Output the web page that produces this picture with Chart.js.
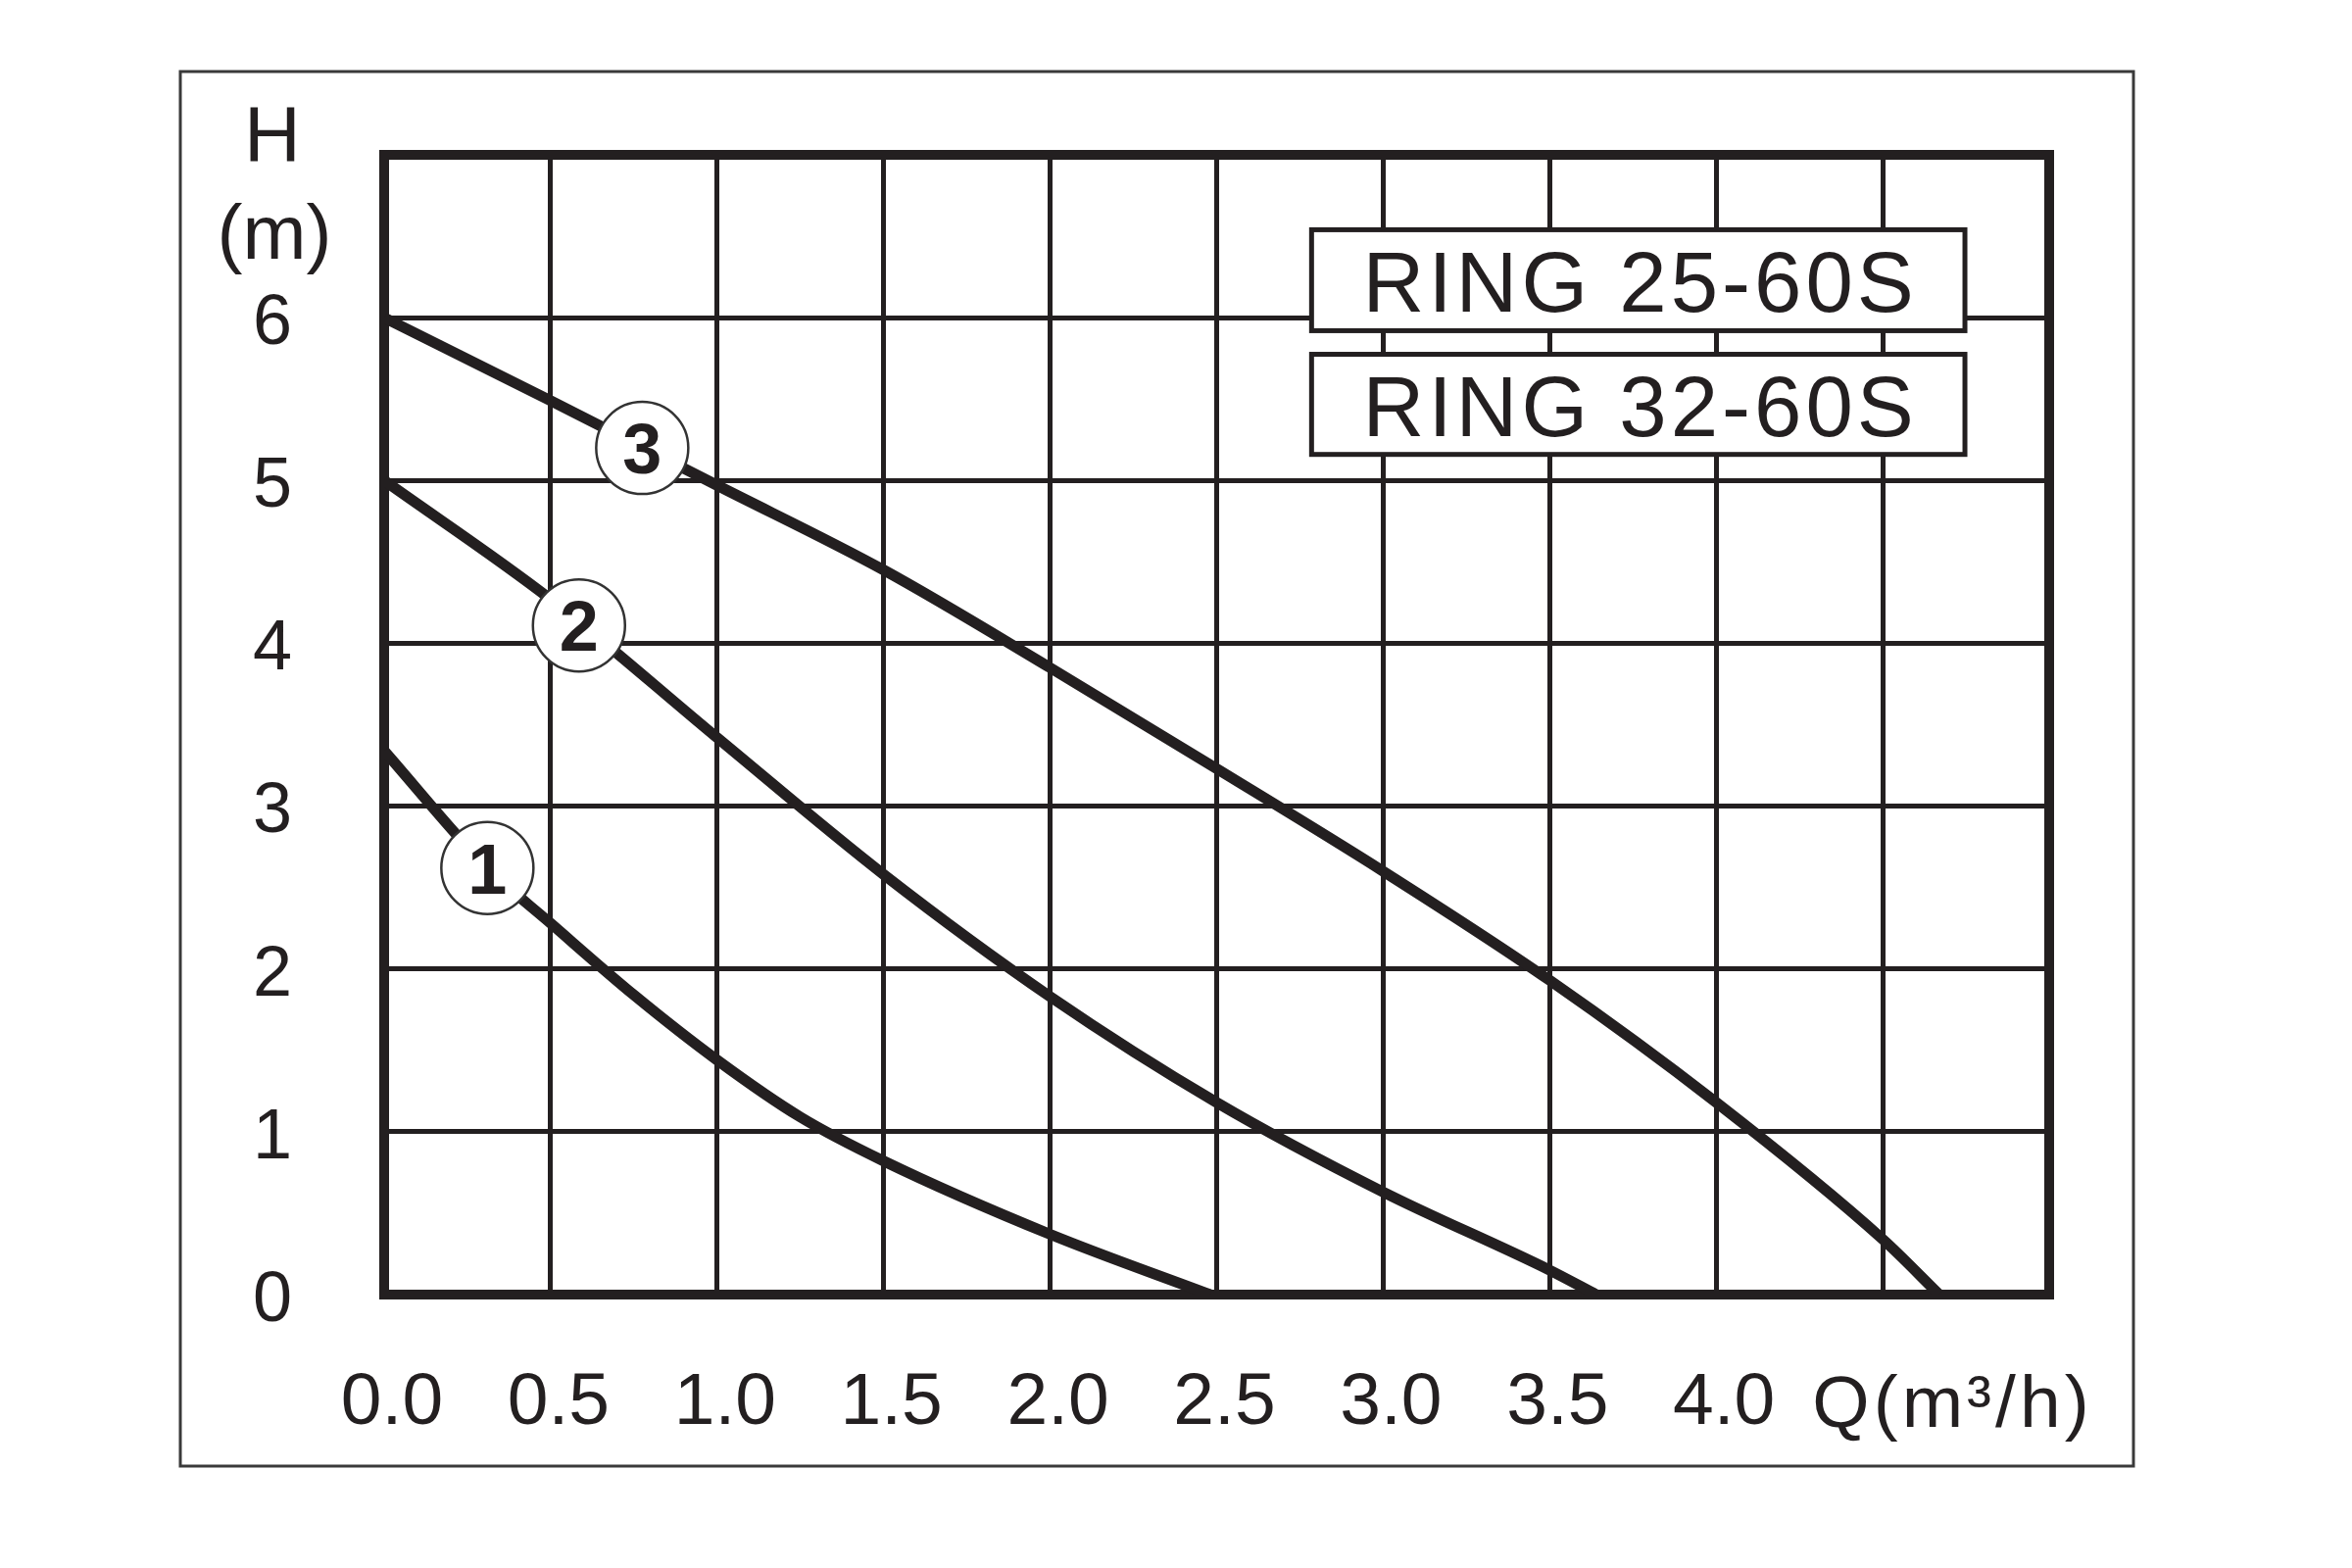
<!DOCTYPE html>
<html lang="en">
<head>
<meta charset="UTF-8">
<title>RING 25-60S / RING 32-60S pump curves</title>
<script src="https://cdn.jsdelivr.net/npm/chart.js"></script>
<style>
    html, body { margin: 0; padding: 0; background: #fff; }
    #wrap { width: 2400px; height: 1600px; }
</style>
</head>
<body>
<div id="wrap"><canvas id="pumpChart" width="2400" height="1600"></canvas></div>
<script>
// flow Q (m3/h) against head H (m)
const speed1Q = [0, 0.31, 0.5, 0.75, 1.0, 1.25, 1.5, 2.0, 2.48];
const speed1H = [3.34, 2.62, 2.28, 1.84, 1.44, 1.09, 0.82, 0.37, 0];

const speed2Q = [0, 0.5, 1.0, 1.5, 2.0, 2.5, 3.0, 3.5, 3.64];
const speed2H = [5.0, 4.27, 3.42, 2.58, 1.83, 1.18, 0.63, 0.15, 0];

const speed3Q = [0, 0.5, 1.0, 1.5, 2.0, 2.5, 3.0, 3.5, 4.0, 4.5, 4.67];
const speed3H = [6.0, 5.49, 4.97, 4.45, 3.85, 3.23, 2.60, 1.93, 1.18, 0.34, 0];

// numbered circles sitting on each curve
const markerQ = [0.31, 0.585, 0.775];
const markerH = [2.62, 4.11, 5.20];
const markerLabels = ['1', '2', '3'];

const xTickLabels = ['0.0', '0.5', '1.0', '1.5', '2.0', '2.5', '3.0', '3.5', '4.0'];
const yTickLabels = ['0', '1', '2', '3', '4', '5', '6'];
const modelNames = ['RING 25-60S', 'RING 32-60S'];
const xTitle = 'Q(m³/h)';
const yTitle = ['H', '(m)'];

const ink = '#231f20';
const fontFamily = '"Liberation Sans", Arial, sans-serif';

function toPoints(qs, hs) {
    return qs.map((q, i) => ({ x: q, y: hs[i] }));
}

// frame, model boxes, axis titles and circle numbers
const sheetPlugin = {
    id: 'sheet',
    beforeDraw(chart) {
        const c = chart.ctx;
        c.save();
        c.fillStyle = '#fff';
        c.fillRect(0, 0, chart.width, chart.height);
        c.strokeStyle = '#3a3a3a';
        c.lineWidth = 3;
        c.strokeRect(184, 73, 1993, 1423);
        c.restore();
    },
    beforeDatasetsDraw(chart) {
        const c = chart.ctx;
        const a = chart.chartArea;
        const x = chart.scales.x, y = chart.scales.y;
        c.save();
        // heavy plot border
        c.strokeStyle = ink;
        c.lineWidth = 10;
        c.strokeRect(a.left, a.top, a.right - a.left, a.bottom - a.top);

        // model name boxes
        const boxTops = [6.54, 5.775];
        const boxBottoms = [5.92, 5.16];
        const left = x.getPixelForValue(2.785);
        const right = x.getPixelForValue(4.747);
        c.font = '87px ' + fontFamily;
        c.letterSpacing = '4px';
        c.textAlign = 'center';
        c.textBaseline = 'alphabetic';
        modelNames.forEach((name, i) => {
            const top = y.getPixelForValue(boxTops[i]);
            const bottom = y.getPixelForValue(boxBottoms[i]);
            c.fillStyle = '#fff';
            c.fillRect(left, top, right - left, bottom - top);
            c.lineWidth = 5;
            c.strokeStyle = ink;
            c.strokeRect(left, top, right - left, bottom - top);
            c.fillStyle = ink;
            c.fillText(name, (left + right) / 2 + 2, (top + bottom) / 2 + 32);
        });
        c.restore();
    },
    afterDatasetsDraw(chart) {
        const c = chart.ctx;
        const pts = chart.getDatasetMeta(0).data;
        c.save();
        c.fillStyle = ink;
        c.font = 'bold 72px ' + fontFamily;
        c.textAlign = 'center';
        c.textBaseline = 'alphabetic';
        pts.forEach((p, i) => {
            c.fillText(markerLabels[i], p.x, p.y + 26);
        });
        c.restore();
    },
    afterDraw(chart) {
        const c = chart.ctx;
        const a = chart.chartArea;
        const x = chart.scales.x;
        c.save();
        c.fillStyle = ink;
        c.textAlign = 'center';
        c.textBaseline = 'alphabetic';
        c.font = '80px ' + fontFamily;
        c.fillText(yTitle[0], a.left - 114, a.top + 6);
        c.font = '78px ' + fontFamily;
        c.fillText(yTitle[1], a.left - 112, a.top + 106);
        c.font = '75px ' + fontFamily;
        c.letterSpacing = '4px';
        c.fillText(xTitle, x.getPixelForValue(4.71), a.bottom + 135);
        c.restore();
    }
};

const ctx = document.getElementById('pumpChart').getContext('2d');
const curveStyle = {
    borderColor: ink,
    borderWidth: 11,
    pointRadius: 0,
    pointHoverRadius: 0,
    fill: false,
    cubicInterpolationMode: 'monotone',
    order: 1
};

new Chart(ctx, {
    type: 'line',
    data: {
        datasets: [
            {
                label: 'markers',
                type: 'scatter',
                data: toPoints(markerQ, markerH),
                pointRadius: 47,
                pointHoverRadius: 47,
                pointBackgroundColor: '#fff',
                pointBorderColor: '#333',
                pointBorderWidth: 2.5,
                showLine: false,
                order: 0
            },
            Object.assign({ label: '1', data: toPoints(speed1Q, speed1H) }, curveStyle),
            Object.assign({ label: '2', data: toPoints(speed2Q, speed2H) }, curveStyle),
            Object.assign({ label: '3', data: toPoints(speed3Q, speed3H) }, curveStyle)
        ]
    },
    options: {
        responsive: false,
        animation: false,
        events: [],
        layout: { padding: { top: 158, right: 309, left: 0, bottom: 0 } },
        plugins: {
            legend: { display: false },
            tooltip: { enabled: false }
        },
        scales: {
            x: {
                type: 'linear',
                min: 0,
                max: 5,
                grid: { color: ink, lineWidth: 5, drawTicks: false },
                border: { display: false },
                ticks: {
                    stepSize: 0.5,
                    autoSkip: false,
                    maxRotation: 0,
                    padding: 66,
                    labelOffset: 8,
                    color: ink,
                    font: { family: fontFamily, size: 75 },
                    callback: (v, i) => xTickLabels[i] ?? ''
                },
                afterFit: s => { s.height = 279; }
            },
            y: {
                type: 'linear',
                min: 0,
                max: 7,
                grid: { color: ink, lineWidth: 5, drawTicks: false },
                border: { display: false },
                ticks: {
                    stepSize: 1,
                    autoSkip: false,
                    padding: 94,
                    labelOffset: 7,
                    color: ink,
                    font: { family: fontFamily, size: 72 },
                    callback: (v, i) => yTickLabels[i] ?? ''
                },
                afterFit: s => { s.width = 392; }
            }
        }
    },
    plugins: [sheetPlugin]
});
</script>
</body>
</html>
